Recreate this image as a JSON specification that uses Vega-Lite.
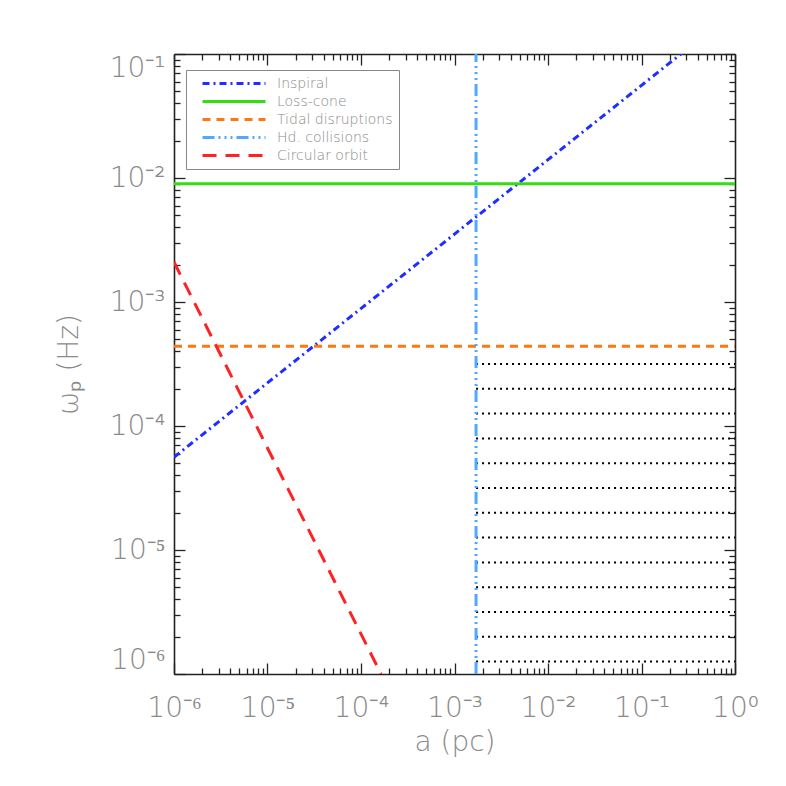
{
  "$schema": "https://vega.github.io/schema/vega-lite/v6.json",
  "width": 561,
  "height": 620,
  "autosize": {"type": "none"},
  "padding": {"left": 174, "top": 54, "right": 51, "bottom": 112},
  "background": "white",
  "config": {
    "view": {"stroke": null},
    "font": "DejaVu Sans",
    "axis": {
      "grid": false,
      "domainColor": "#222222",
      "domainWidth": 1.6,
      "tickColor": "#222222",
      "tickWidth": 1.3,
      "labelColor": "#8a8a8a",
      "titleColor": "#8a8a8a",
      "labelFont": "DejaVu Sans",
      "titleFont": "DejaVu Sans",
      "labelFontWeight": 200,
      "titleFontWeight": 200
    }
  },
  "datasets": {
    "curves": [
      {"series": "Inspiral", "a": 1e-6, "w": 5.6e-5},
      {"series": "Inspiral", "a": 0.3, "w": 0.108},
      {"series": "Loss-cone", "a": 1e-6, "w": 9.0e-3},
      {"series": "Loss-cone", "a": 1, "w": 9.0e-3},
      {"series": "Tidal disruptions", "a": 1e-6, "w": 4.4e-4},
      {"series": "Tidal disruptions", "a": 1, "w": 4.4e-4},
      {"series": "Hd. collisions", "a": 1.7e-3, "w": 1e-6},
      {"series": "Hd. collisions", "a": 1.7e-3, "w": 0.1},
      {"series": "Circular orbit", "a": 1e-6, "w": 2.1e-3},
      {"series": "Circular orbit", "a": 1.64e-4, "w": 1.0e-6}
    ],
    "levels": [
      {"w": 3.162e-4, "a0": 1.7e-3, "a1": 1},
      {"w": 1.995e-4, "a0": 1.7e-3, "a1": 1},
      {"w": 1.259e-4, "a0": 1.7e-3, "a1": 1},
      {"w": 7.943e-5, "a0": 1.7e-3, "a1": 1},
      {"w": 5.012e-5, "a0": 1.7e-3, "a1": 1},
      {"w": 3.162e-5, "a0": 1.7e-3, "a1": 1},
      {"w": 1.995e-5, "a0": 1.7e-3, "a1": 1},
      {"w": 1.259e-5, "a0": 1.7e-3, "a1": 1},
      {"w": 7.943e-6, "a0": 1.7e-3, "a1": 1},
      {"w": 5.012e-6, "a0": 1.7e-3, "a1": 1},
      {"w": 3.162e-6, "a0": 1.7e-3, "a1": 1},
      {"w": 1.995e-6, "a0": 1.7e-3, "a1": 1},
      {"w": 1.259e-6, "a0": 1.7e-3, "a1": 1}
    ]
  },
  "resolve": {"axis": {"x": "independent", "y": "independent"}},
  "layer": [
    {
      "data": {"name": "levels"},
      "mark": {"type": "rule", "color": "black", "strokeWidth": 2, "strokeDash": [2, 4], "clip": true},
      "encoding": {
        "x": {"field": "a0", "type": "quantitative", "scale": {"type": "log", "domain": [1e-6, 1], "nice": false},
          "axis": {"orient": "bottom", "values": [2e-6,3e-6,4e-6,5e-6,6e-6,7e-6,8e-6,9e-6,2e-5,3e-5,4e-5,5e-5,6e-5,7e-5,8e-5,9e-5,2e-4,3e-4,4e-4,5e-4,6e-4,7e-4,8e-4,9e-4,2e-3,3e-3,4e-3,5e-3,6e-3,7e-3,8e-3,9e-3,2e-2,3e-2,4e-2,5e-2,6e-2,7e-2,8e-2,9e-2,0.2,0.3,0.4,0.5,0.6,0.7,0.8,0.9], "tickSize": -6, "labels": false, "domain": false, "title": null}},
        "x2": {"field": "a1"},
        "y": {"field": "w", "type": "quantitative", "scale": {"type": "log", "domain": [1e-6, 0.1], "nice": false},
          "axis": {"orient": "left", "values": [2e-6,3e-6,4e-6,5e-6,6e-6,7e-6,8e-6,9e-6,2e-5,3e-5,4e-5,5e-5,6e-5,7e-5,8e-5,9e-5,2e-4,3e-4,4e-4,5e-4,6e-4,7e-4,8e-4,9e-4,2e-3,3e-3,4e-3,5e-3,6e-3,7e-3,8e-3,9e-3,2e-2,3e-2,4e-2,5e-2,6e-2,7e-2,8e-2,9e-2], "tickSize": -6, "labels": false, "domain": false, "title": null}}
      }
    },
    {
      "data": {"name": "levels"},
      "mark": {"type": "rule", "opacity": 0},
      "encoding": {
        "x": {"field": "a0", "type": "quantitative", "scale": {"type": "log", "domain": [1e-6, 1], "nice": false},
          "axis": {"orient": "top", "values": [2e-6,3e-6,4e-6,5e-6,6e-6,7e-6,8e-6,9e-6,2e-5,3e-5,4e-5,5e-5,6e-5,7e-5,8e-5,9e-5,2e-4,3e-4,4e-4,5e-4,6e-4,7e-4,8e-4,9e-4,2e-3,3e-3,4e-3,5e-3,6e-3,7e-3,8e-3,9e-3,2e-2,3e-2,4e-2,5e-2,6e-2,7e-2,8e-2,9e-2,0.2,0.3,0.4,0.5,0.6,0.7,0.8,0.9], "tickSize": -6, "labels": false, "domain": false, "title": null}},
        "x2": {"field": "a1"},
        "y": {"field": "w", "type": "quantitative", "scale": {"type": "log", "domain": [1e-6, 0.1], "nice": false},
          "axis": {"orient": "right", "values": [2e-6,3e-6,4e-6,5e-6,6e-6,7e-6,8e-6,9e-6,2e-5,3e-5,4e-5,5e-5,6e-5,7e-5,8e-5,9e-5,2e-4,3e-4,4e-4,5e-4,6e-4,7e-4,8e-4,9e-4,2e-3,3e-3,4e-3,5e-3,6e-3,7e-3,8e-3,9e-3,2e-2,3e-2,4e-2,5e-2,6e-2,7e-2,8e-2,9e-2], "tickSize": -6, "labels": false, "domain": false, "title": null}}
      }
    },
    {
      "data": {"name": "levels"},
      "mark": {"type": "rule", "opacity": 0},
      "encoding": {
        "x": {"field": "a0", "type": "quantitative", "scale": {"type": "log", "domain": [1e-6, 1], "nice": false},
          "axis": {"orient": "top", "values": [1e-6, 1e-5, 1e-4, 1e-3, 1e-2, 1e-1, 1], "tickSize": -11, "labels": false, "title": null}},
        "x2": {"field": "a1"},
        "y": {"field": "w", "type": "quantitative", "scale": {"type": "log", "domain": [1e-6, 0.1], "nice": false},
          "axis": {"orient": "right", "values": [1e-6, 1e-5, 1e-4, 1e-3, 1e-2, 1e-1], "tickSize": -11, "labels": false, "title": null}}
      }
    },
    {
      "data": {"name": "curves"},
      "mark": {"type": "line", "strokeWidth": 3, "clip": true},
      "encoding": {
        "x": {"field": "a", "type": "quantitative", "scale": {"type": "log", "domain": [1e-6, 1], "nice": false},
          "axis": {"orient": "bottom", "values": [1e-6, 1e-5, 1e-4, 1e-3, 1e-2, 1e-1, 1], "tickSize": -11,
            "labelExpr": "'10' + (round(log(datum.value)/LN10) < 0 ? '⁻' : '') + ['⁰','¹','²','³','⁴','⁵','⁶','⁷','⁸','⁹'][abs(round(log(datum.value)/LN10))]",
            "labelFontSize": 28, "labelPadding": 31, "labelFlush": false, "labelOverlap": false,
            "title": "a (pc)", "titleFontSize": 28, "titlePadding": 6}},
        "y": {"field": "w", "type": "quantitative", "scale": {"type": "log", "domain": [1e-6, 0.1], "nice": false},
          "axis": {"orient": "left", "values": [1e-6, 1e-5, 1e-4, 1e-3, 1e-2, 1e-1], "tickSize": -11,
            "labelExpr": "'10' + (round(log(datum.value)/LN10) < 0 ? '⁻' : '') + ['⁰','¹','²','³','⁴','⁵','⁶','⁷','⁸','⁹'][abs(round(log(datum.value)/LN10))]",
            "labelFontSize": 28, "labelPadding": 20, "labelFlush": true, "labelOverlap": false,
            "title": "ωₚ (Hz)", "titleFontSize": 28, "titlePadding": 26}},
        "color": {"field": "series", "type": "nominal",
          "scale": {"domain": ["Inspiral", "Loss-cone", "Tidal disruptions", "Hd. collisions", "Circular orbit"],
                    "range": ["#1f2fff", "#33dd11", "#ff7711", "#50a8ff", "#ff2222"]},
          "legend": {"title": null, "orient": "none", "legendX": 12, "legendY": 16, "symbolType": "M0.5,0H11", "symbolSize": 144, "symbolStrokeWidth": 3,
            "labelFontSize": 14, "labelColor": "#8a8a8a", "labelFont": "DejaVu Sans", "labelFontWeight": 200, "strokeColor": "#888888", "fillColor": "white", "padding": 6, "rowPadding": 3, "labelOffset": 70}},
        "strokeDash": {"field": "series", "type": "nominal",
          "scale": {"domain": ["Inspiral", "Loss-cone", "Tidal disruptions", "Hd. collisions", "Circular orbit"],
                    "range": [[7, 4, 2, 4], [1, 0], [8, 6], [12, 4, 2, 4, 2, 4, 2, 4], [14, 9]]},
          "legend": {"title": null, "orient": "none", "legendX": 12, "legendY": 16, "symbolType": "M0.5,0H11", "symbolSize": 144, "symbolStrokeWidth": 3,
            "labelFontSize": 14, "labelColor": "#8a8a8a", "labelFont": "DejaVu Sans", "labelFontWeight": 200, "strokeColor": "#888888", "fillColor": "white", "padding": 6, "rowPadding": 3, "labelOffset": 70}}
      }
    }
  ]
}
